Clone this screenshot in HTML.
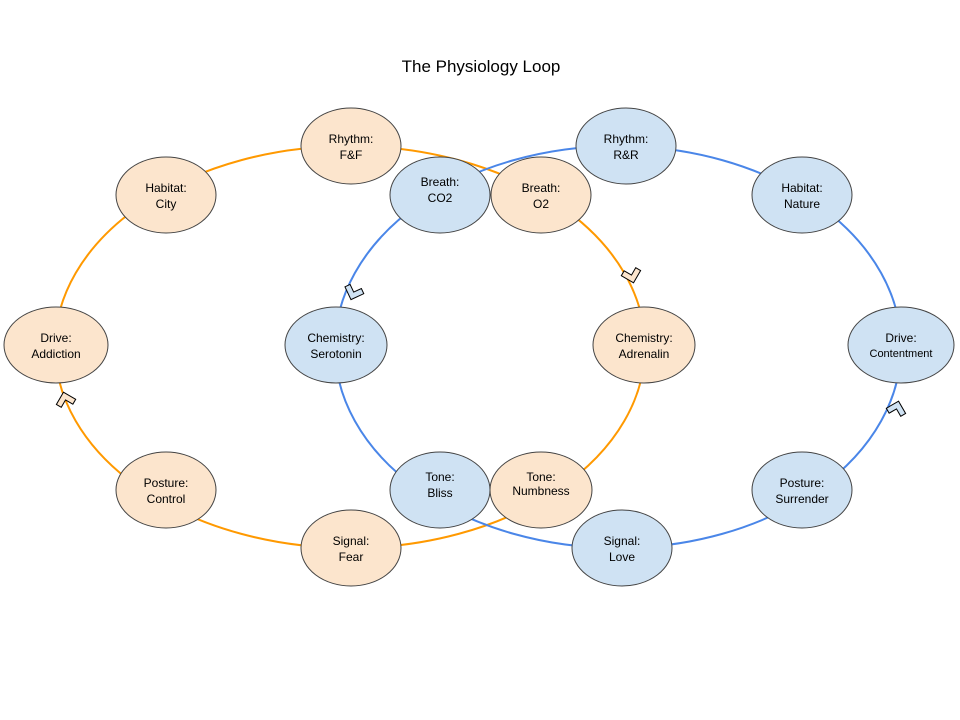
<!DOCTYPE html>
<html><head><meta charset="utf-8"><style>body{margin:0;background:#fff}svg{display:block}</style></head><body>
<svg width="960" height="720" viewBox="0 0 960 720" xmlns="http://www.w3.org/2000/svg" font-family="Liberation Sans, sans-serif">
<rect width="960" height="720" fill="#fff"/>
<text x="481" y="72" font-size="17" text-anchor="middle" fill="#000">The Physiology Loop</text>
<ellipse cx="350" cy="347" rx="295" ry="201" fill="none" stroke="#ff9900" stroke-width="2"/>
<ellipse cx="618" cy="347" rx="283" ry="201" fill="none" stroke="#4a86e8" stroke-width="2"/>
<defs><polygon id="ch" points="0,6 10,-4 6,-8 0,-2 -6,-8 -10,-4" stroke="#000" stroke-width="1"/></defs>
<use href="#ch" transform="translate(353,294) rotate(20)" fill="#cfe2f3"/>
<use href="#ch" transform="translate(632,277) rotate(-15)" fill="#fce5cd"/>
<use href="#ch" transform="translate(65,398) rotate(165)" fill="#fce5cd"/>
<use href="#ch" transform="translate(897,407) rotate(195)" fill="#cfe2f3"/>
<g stroke="#444" stroke-width="1" font-size="12" text-anchor="middle" fill="#000">
<g fill="#cfe2f3">
<ellipse cx="626" cy="146" rx="50" ry="38"/><ellipse cx="802" cy="195" rx="50" ry="38"/><ellipse cx="901" cy="345" rx="53" ry="38"/><ellipse cx="802" cy="490" rx="50" ry="38"/><ellipse cx="622" cy="548" rx="50" ry="38"/><ellipse cx="440" cy="490" rx="50" ry="38"/><ellipse cx="336" cy="345" rx="51" ry="38"/><ellipse cx="440" cy="195" rx="50" ry="38"/>
</g>
<g fill="#fce5cd">
<ellipse cx="351" cy="146" rx="50" ry="38"/><ellipse cx="166" cy="195" rx="50" ry="38"/><ellipse cx="56" cy="345" rx="52" ry="38"/><ellipse cx="166" cy="490" rx="50" ry="38"/><ellipse cx="351" cy="548" rx="50" ry="38"/><ellipse cx="541" cy="490" rx="51" ry="38"/><ellipse cx="644" cy="345" rx="51" ry="38"/><ellipse cx="541" cy="195" rx="50" ry="38"/>
</g>
</g>
<g font-size="12" text-anchor="middle" fill="#000">
<text x="351" y="143">Rhythm:</text><text x="351" y="159">F&amp;F</text>
<text x="166" y="192">Habitat:</text><text x="166" y="208">City</text>
<text x="56" y="342">Drive:</text><text x="56" y="358">Addiction</text>
<text x="166" y="487">Posture:</text><text x="166" y="503">Control</text>
<text x="351" y="545">Signal:</text><text x="351" y="561">Fear</text>
<text x="541" y="481">Tone:</text><text x="541" y="495">Numbness</text>
<text x="644" y="342">Chemistry:</text><text x="644" y="358">Adrenalin</text>
<text x="541" y="192">Breath:</text><text x="541" y="208">O2</text>
<text x="626" y="143">Rhythm:</text><text x="626" y="159">R&amp;R</text>
<text x="802" y="192">Habitat:</text><text x="802" y="208">Nature</text>
<text x="901" y="342">Drive:</text><text x="901" y="357" font-size="11">Contentment</text>
<text x="802" y="487">Posture:</text><text x="802" y="503">Surrender</text>
<text x="622" y="545">Signal:</text><text x="622" y="561">Love</text>
<text x="440" y="481">Tone:</text><text x="440" y="497">Bliss</text>
<text x="336" y="342">Chemistry:</text><text x="336" y="358">Serotonin</text>
<text x="440" y="186">Breath:</text><text x="440" y="202">CO2</text>
</g>
</svg>
</body></html>
